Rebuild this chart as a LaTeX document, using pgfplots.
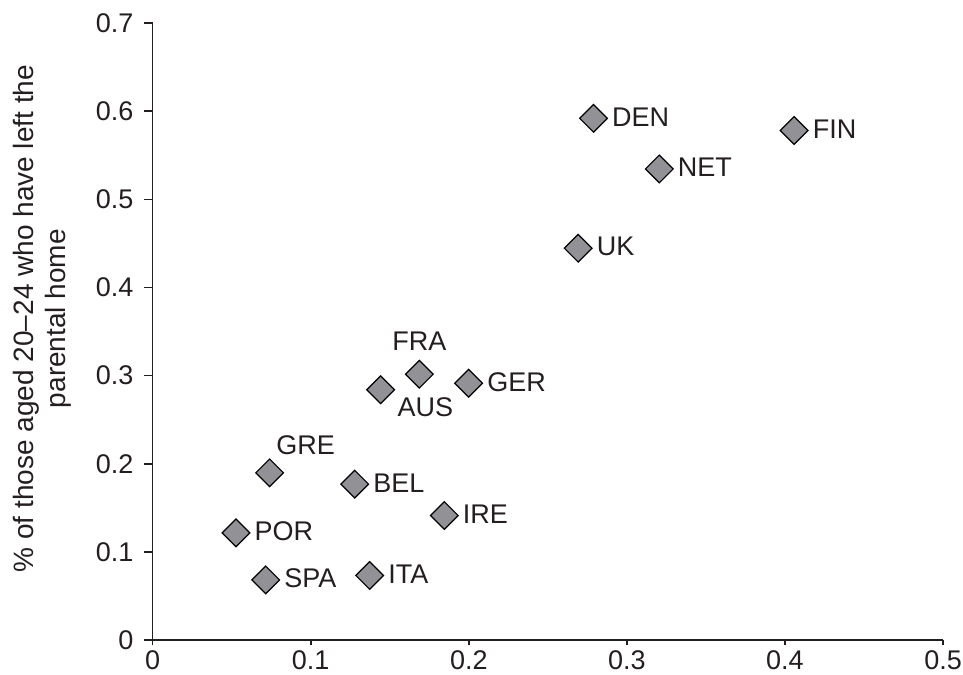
\documentclass[border=0pt]{standalone}
\usepackage{fontspec}
\setmainfont{Liberation Sans}
\usepackage{pgfplots}
\pgfplotsset{compat=1.18}
\definecolor{mk}{RGB}{145,145,150}
\definecolor{tx}{RGB}{35,31,32}
\newcommand{\lab}{\fontsize{13.5}{16}\selectfont}
\newcommand{\ylab}{\fontsize{14}{16.2}\selectfont}
\pgfplotsset{
  pts/.style={only marks, mark=square*, mark size=4.9pt,
    mark options={rotate=45, fill=mk, draw=black, line width=0.6pt},
    point meta=explicit symbolic, nodes near coords,
    every node near coord/.append style={font=\lab, text=tx}},
}
\begin{document}
\begin{tikzpicture}
\begin{axis}[
  name=ax, at={(0,0)}, anchor=south west,
  scale only axis, width=395.3pt, height=308.65pt,
  xmin=0, xmax=0.5, ymin=0, ymax=0.7,
  axis lines*=left,
  axis line style={line width=0.8pt, tx},
  tick align=outside,
  xtick={0,0.1,0.2,0.3,0.4,0.5},
  ytick={0,0.1,0.2,0.3,0.4,0.5,0.6,0.7},
  xtick style={line width=0.8pt, tx, /pgfplots/major tick length=2.7pt},
  ytick style={line width=0.8pt, tx, /pgfplots/major tick length=4.5pt},
  minor tick num=0,
  /pgf/number format/assume math mode=true,
  /pgf/number format/.cd, fixed, precision=1, /pgfplots/.cd,
  ticklabel style={font=\lab, text=tx},
  xticklabel style={yshift=2.5pt},
  yticklabel style={xshift=-1.8pt},
  ylabel={\% of those aged 20--24 who have left the\\parental home},
  ylabel style={font=\ylab, align=center, text=tx,
    at={(axis description cs:-0.14,0.521)}, anchor=center},
]
% labels to the right
\addplot[pts, every node near coord/.append style={anchor=west, xshift=5.7pt, yshift=0.7pt}]
coordinates {
(0.2789,0.5919)[DEN]
(0.4058,0.5780)[FIN]
(0.3205,0.5344)[NET]
(0.2692,0.4445)[UK]
(0.1999,0.2914)[GER]
(0.1278,0.1769)[BEL]
(0.1845,0.1413)[IRE]
(0.0527,0.1216)[POR]
(0.0715,0.0683)[SPA]
(0.1373,0.0733)[ITA]
};
% label above
\addplot[pts, every node near coord/.append style={anchor=south, xshift=0pt, yshift=8pt}]
coordinates {(0.1687,0.3016)[FRA]};
% label below right
\addplot[pts, every node near coord/.append style={anchor=north west, xshift=4.9pt, yshift=-0.2pt}]
coordinates {(0.1442,0.2840)[AUS]};
% label above right
\addplot[pts, every node near coord/.append style={anchor=south west, xshift=-0.2pt, yshift=5.4pt}]
coordinates {(0.0740,0.1897)[GRE]};
\end{axis}
\pgfresetboundingbox
\path[use as bounding box] ([xshift=-76.35pt,yshift=-17.35pt]ax.south west) rectangle ([xshift=10pt,yshift=11.5pt]ax.north east);
\end{tikzpicture}
\end{document}
